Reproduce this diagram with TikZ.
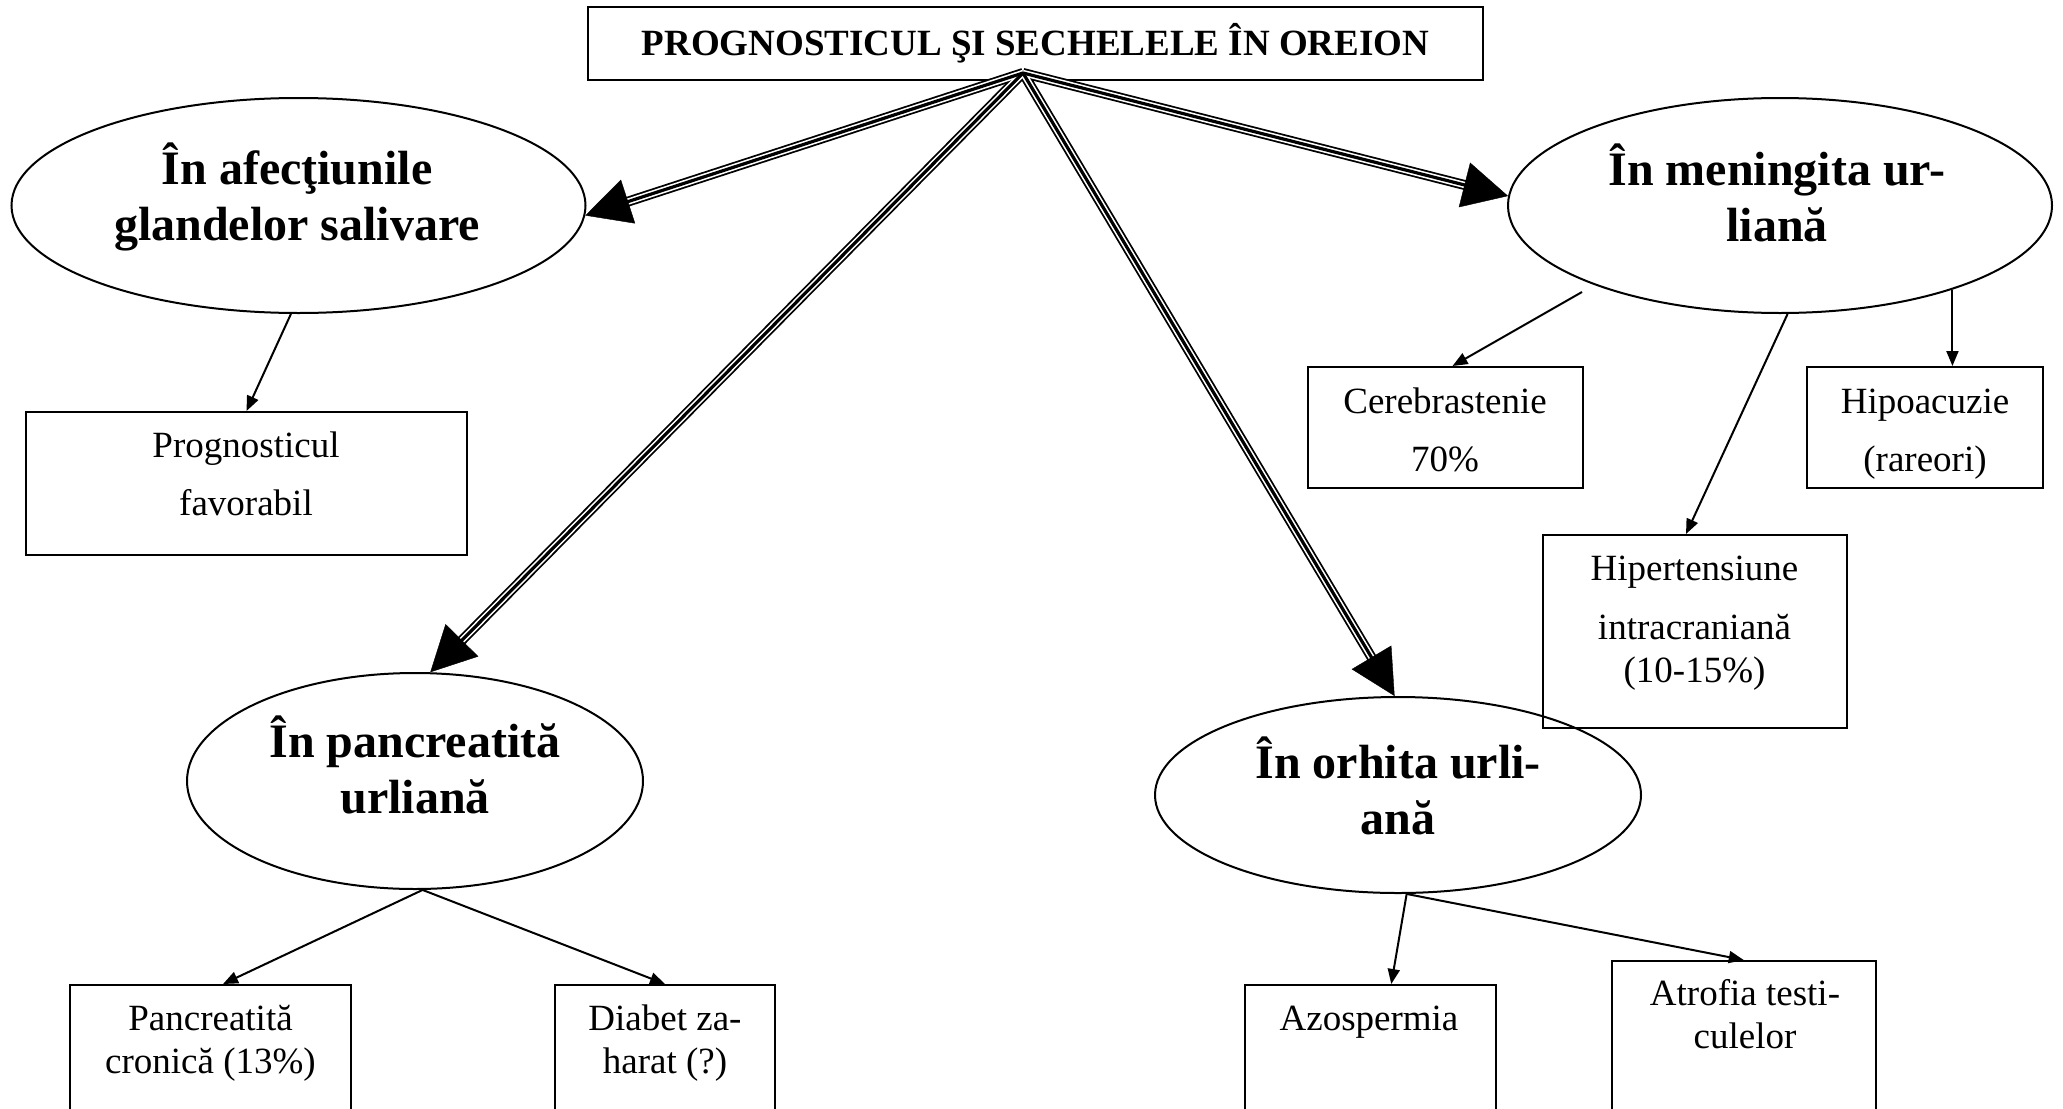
\documentclass[tikz,border=0pt]{standalone}
\usepackage{fontspec}
\setmainfont{Liberation Serif}
\usetikzlibrary{arrows.meta,shapes.geometric,calc}
\begin{document}
\begin{tikzpicture}[x=1pt,y=1pt,
  ell/.style={draw, ellipse, line width=2pt, inner sep=0pt},
  rbox/.style={draw, rectangle, line width=2pt, inner sep=0pt},
  etext/.style={font=\fontsize{48}{56}\selectfont\bfseries, align=center, anchor=base, inner sep=0pt},
  btext/.style={font=\fontsize{37}{43}\selectfont, align=center, anchor=base, inner sep=0pt},
  sarrow/.style={line width=2pt, -{Triangle[length=15pt,width=12pt]}},
  shaftA/.style={line width=10pt, shorten >=42pt},
  shaftB/.style={line width=6.4pt, white, shorten >=41pt},
  shaftC/.style={line width=3.2pt, shorten >=42pt},
  bighead/.style={line width=0.4pt, -{Triangle[length=45pt,width=46pt]}}
]
\useasboundingbox (0,0) rectangle (2063,-1108);
\clip (0,0) rectangle (2063,-1108);

% title
\node[rbox, minimum width=895, minimum height=73, font=\fontsize{37}{43}\selectfont\bfseries]
  (title) at (1035.5,-43.5) {PROGNOSTICUL ŞI SECHELELE ÎN OREION};

% ellipses
\node[ell, minimum width=574, minimum height=215] (ell1) at (298.5,-205.5) {};
\node[ell, minimum width=544, minimum height=215] (mening) at (1780,-205.5) {};
\node[ell, minimum width=456, minimum height=216] (panc) at (415,-781) {};
\node[ell, minimum width=486, minimum height=196] (orh) at (1398,-795) {};

% (anchor base = baseline of the last line)
\node[etext] (ell1-t) at (297,-240) {În afecţiunile\\glandelor salivare};
\node[etext] (mening-t) at (1777,-241) {În meningita ur-\\liană};
\node[etext] (panc-t) at (415,-813) {În pancreatită\\urliană};
\node[etext] (orh-t) at (1398,-834) {În orhita urli-\\ană};

% boxes
\node[rbox, minimum width=441, minimum height=143] (prog) at (246.5,-483.5) {};
\node[rbox, minimum width=275, minimum height=121] (cereb) at (1445,-427.5) {};
\node[rbox, minimum width=236, minimum height=121] (hipoac) at (1924.5,-427.5) {};
\node[rbox, minimum width=304, minimum height=193] (hipert) at (1694.5,-631.5) {};
\node[rbox, minimum width=281, minimum height=165] (pcron) at (210.5,-1067.5) {};
\node[rbox, minimum width=220, minimum height=165] (diab) at (665,-1067.5) {};
\node[rbox, minimum width=250.5, minimum height=165] (azo) at (1370.25,-1067.5) {};
\node[rbox, minimum width=264, minimum height=189] (atro) at (1743.75,-1055.5) {};

\node[btext] (prog-t) at (246,-515) {Prognosticul\\[15pt]favorabil};
\node[btext] (cereb-t) at (1445,-471) {Cerebrastenie\\[15pt]70\%};
\node[btext] (hipoac-t) at (1925,-471) {Hipoacuzie\\[15pt](rareori)};
\node[btext] (hipert-t) at (1694.5,-682) {Hipertensiune\\[16pt]intracraniană\\(10-15\%)};
\node[btext] (pcron-t) at (210.5,-1073) {Pancreatită\\cronică (13\%)};
\node[btext] (diab-t) at (665,-1073) {Diabet za-\\harat (?)};
\node[btext] (azo-t) at (1369,-1030) {Azospermia};
\node[btext] (atro-t) at (1745,-1048) {Atrofia testi-\\culelor};

% triple arrows
\coordinate (src) at ($(title.south)+(-12.5,8)$);
\foreach \t in {ell1.-2.5, mening.178, panc.82, orh.92} {
  \draw[shaftA] (src) -- (\t);
}
\foreach \t in {ell1.-2.5, mening.178, panc.82, orh.92} {
  \draw[shaftB] (src) -- (\t);
}
\foreach \t in {ell1.-2.5, mening.178, panc.82, orh.92} {
  \draw[shaftC] (src) -- (\t);
  \draw[bighead] (src) -- (\t);
}

% small arrows
\coordinate (mstart) at ($(mening.center)+(-198,-86.5)$);
\draw[sarrow] (ell1.266) -- (prog.north);
\draw[sarrow] (mstart) -- ($(cereb.north)+(7.5,0)$);
\draw[sarrow] (mening.274) -- ($(hipert.north)+(-8.5,0)$);
\draw[sarrow] (mening.-26.3) -- (mening.-26.3 |- hipoac.north);
\draw[sarrow] (panc.274) -- ($(pcron.north)+(12.5,0)$);
\draw[sarrow] (panc.274) -- (diab.north);
\draw[sarrow] (orh.275) -- ($(azo.north)+(21,0)$);
\draw[sarrow] (orh.275) -- (atro.north);
\end{tikzpicture}
\end{document}
